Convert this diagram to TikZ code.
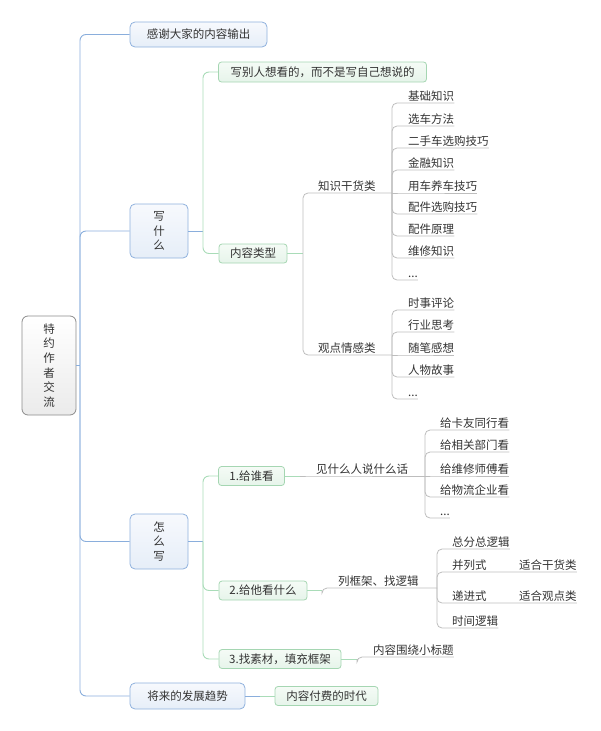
\documentclass[tikz,border=0pt]{standalone}
\usepackage{fontspec}
\setmainfont{Noto Sans CJK SC}
\usepackage{tikz}
\definecolor{txt}{HTML}{333333}
\definecolor{bln}{HTML}{8AAEDC}
\definecolor{blb}{HTML}{8FB1DD}
\definecolor{blt}{HTML}{F7F9FD}
\definecolor{blf}{HTML}{E6EEF8}
\definecolor{grn}{HTML}{A9DCB8}
\definecolor{grb}{HTML}{A5D6B2}
\definecolor{grt}{HTML}{F5FBF6}
\definecolor{grf}{HTML}{E6F4EA}
\definecolor{gry}{HTML}{BDBDBD}
\definecolor{rtb}{HTML}{8C8C8C}
\definecolor{rtf}{HTML}{EBEBEB}

\begin{document}
\begin{tikzpicture}[x=1pt,y=-1pt,font=\fontsize{11.5}{14.6}\selectfont,text=txt,
  rootbox/.style={draw=rtb,line width=0.8pt,rounded corners=6pt,top color=white,bottom color=rtf,align=center,inner sep=0pt},
  bbox/.style={draw=blb,line width=0.8pt,rounded corners=5pt,top color=blt,bottom color=blf,align=center,inner sep=0pt},
  gbox/.style={draw=grb,line width=0.8pt,rounded corners=3pt,top color=grt,bottom color=grf,inner sep=0pt},
  leaf/.style={anchor=south west,inner xsep=0pt,inner ysep=2.5pt,text depth=0pt},
  bl/.style={draw=bln,line width=0.9pt,rounded corners=6pt},
  gl/.style={draw=grn,line width=0.9pt,rounded corners=6pt},
  kl/.style={draw=gry,line width=0.8pt,rounded corners=5pt}]
  \useasboundingbox (0,0) rectangle (600,731);
  % root and first level
  \node[rootbox,minimum width=54pt,minimum height=99pt] (root) at (49,365.5) {特\\约\\作\\者\\交\\流};
  \node[bbox,minimum width=137pt,minimum height=25pt] (thx) at (198.5,34.5) {感谢大家的内容输出};
  \node[bbox,minimum width=58pt,minimum height=54pt] (what) at (159,231) {写\\什\\么};
  \node[bbox,minimum width=58pt,minimum height=55pt] (how) at (159,541.5) {怎\\么\\写};
  \node[bbox,minimum width=115pt,minimum height=26pt] (future) at (187.5,696) {将来的发展趋势};
  \coordinate (tr) at (80,365.5);
  \draw[bl] (root.east) -- (tr);
  \draw[bl] (tr) |- (thx.west); \draw[bl] (tr) |- (what.west);
  \draw[bl] (tr) |- (how.west); \draw[bl] (tr) |- (future.west);
  % second level
  \node[gbox,minimum width=208pt,minimum height=20pt] (want) at (322.5,72) {写别人想看的，而不是写自己想说的};
  \node[gbox,minimum width=68pt,minimum height=19pt] (type) at (253,253.5) {内容类型};
  \node[gbox,minimum width=66pt,minimum height=19pt] (who) at (251.5,476) {1.给谁看};
  \node[gbox,minimum width=88pt,minimum height=19pt] (show) at (263,590.5) {2.给他看什么};
  \node[gbox,minimum width=122pt,minimum height=19pt] (mat) at (280,659) {3.找素材，填充框架};
  \node[gbox,minimum width=103pt,minimum height=19pt] (paid) at (326.5,696) {内容付费的时代};
  \coordinate (jw) at (203,231); \coordinate (jh) at (203,541.5); \coordinate (jf) at (260,696);
  \draw[bl] (what.east) -- (jw); \draw[gl] (jw) |- (want.west); \draw[gl] (jw) |- (type.west);
  \draw[bl] (how.east) -- (jh); \draw[gl] (jh) |- (who.west); \draw[gl] (jh) |- (show.west); \draw[gl] (jh) |- (mat.west);
  \draw[bl] (future.east) -- (jf); \draw[gl] (jf) -- (paid.west);
  % content types
  \node[leaf] (zs) at (318,193) {知识干货类};
  \node[leaf] (gd) at (318,355) {观点情感类};
  \coordinate (jt) at (303,253.5); \coordinate (kz) at (392,193); \coordinate (kg) at (392,355);
  \draw[gl] (type.east) -- (jt);
  \draw[kl] (jt) |- (zs.south west) -- (kz);
  \draw[kl] (jt) |- (gd.south west) -- (kg);
  \node[leaf] (z1) at (408,103) {基础知识};
  \node[leaf] (z2) at (408,126) {选车方法};
  \node[leaf] (z3) at (408,148) {二手车选购技巧};
  \node[leaf] (z4) at (408,170) {金融知识};
  \node[leaf] (z5) at (408,193) {用车养车技巧};
  \node[leaf] (z6) at (408,214) {配件选购技巧};
  \node[leaf] (z7) at (408,236) {配件原理};
  \node[leaf] (z8) at (408,258) {维修知识};
  \node[leaf] (z9) at (408,280) {...};
  \draw[kl] (kz) |- (z1.south west) -- (z1.south east);
  \draw[kl] (kz) |- (z2.south west) -- (z2.south east);
  \draw[kl] (kz) |- (z3.south west) -- (z3.south east);
  \draw[kl] (kz) |- (z4.south west) -- (z4.south east);
  \draw[kl] (kz) -- (z5.south west) -- (z5.south east);
  \draw[kl] (kz) |- (z6.south west) -- (z6.south east);
  \draw[kl] (kz) |- (z7.south west) -- (z7.south east);
  \draw[kl] (kz) |- (z8.south west) -- (z8.south east);
  \draw[kl] (kz) |- (z9.south west) -- (z9.south east);
  \node[leaf] (g1) at (408,310) {时事评论};
  \node[leaf] (g2) at (408,332) {行业思考};
  \node[leaf] (g3) at (408,355) {随笔感想};
  \node[leaf] (g4) at (408,377) {人物故事};
  \node[leaf] (g5) at (408,399) {...};
  \draw[kl] (kg) |- (g1.south west) -- (g1.south east);
  \draw[kl] (kg) |- (g2.south west) -- (g2.south east);
  \draw[kl] (kg) -- (g3.south west) -- (g3.south east);
  \draw[kl] (kg) |- (g4.south west) -- (g4.south east);
  \draw[kl] (kg) |- (g5.south west) -- (g5.south east);
  % who to write for
  \node[leaf] (jr) at (316,476) {见什么人说什么话};
  \coordinate (jo) at (300,476); \coordinate (kj) at (425,476);
  \draw[gl] (who.east) -- (jo); \draw[kl] (jo) -- (jr.south west) -- (kj);
  \node[leaf] (r1) at (440,430) {给卡友同行看};
  \node[leaf] (r2) at (440,452) {给相关部门看};
  \node[leaf] (r3) at (440,476) {给维修师傅看};
  \node[leaf] (r4) at (440,497) {给物流企业看};
  \node[leaf] (r5) at (440,518) {...};
  \draw[kl] (kj) |- (r1.south west) -- (r1.south east);
  \draw[kl] (kj) |- (r2.south west) -- (r2.south east);
  \draw[kl] (kj) -- (r3.south west) -- (r3.south east);
  \draw[kl] (kj) |- (r4.south west) -- (r4.south east);
  \draw[kl] (kj) |- (r5.south west) -- (r5.south east);
  % what to show
  \node[leaf] (lj) at (338,588) {列框架、找逻辑};
  \coordinate (jl) at (322,590.5); \coordinate (kl) at (437,588);
  \draw[gl] (show.east) -- (jl); \draw[kl] (jl) |- (lj.south west) -- (kl);
  \node[leaf] (l1) at (452,549) {总分总逻辑};
  \node[leaf] (l2) at (452,572) {并列式};
  \node[leaf] (l3) at (452,603) {递进式};
  \node[leaf] (l4) at (452,628) {时间逻辑};
  \node[leaf] (sh) at (519,572) {适合干货类};
  \node[leaf] (sg) at (519,603) {适合观点类};
  \draw[kl] (kl) |- (l1.south west) -- (l1.south east);
  \draw[kl] (kl) |- (l2.south west) -- (sh.south east);
  \draw[kl] (kl) |- (l3.south west) -- (sg.south east);
  \draw[kl] (kl) |- (l4.south west) -- (l4.south east);
  % material
  \node[leaf] (nr) at (373,657) {内容围绕小标题};
  \coordinate (jm) at (357,659);
  \draw[gl] (mat.east) -- (jm); \draw[kl] (jm) |- (nr.south west) -- (nr.south east);
\end{tikzpicture}
\end{document}
